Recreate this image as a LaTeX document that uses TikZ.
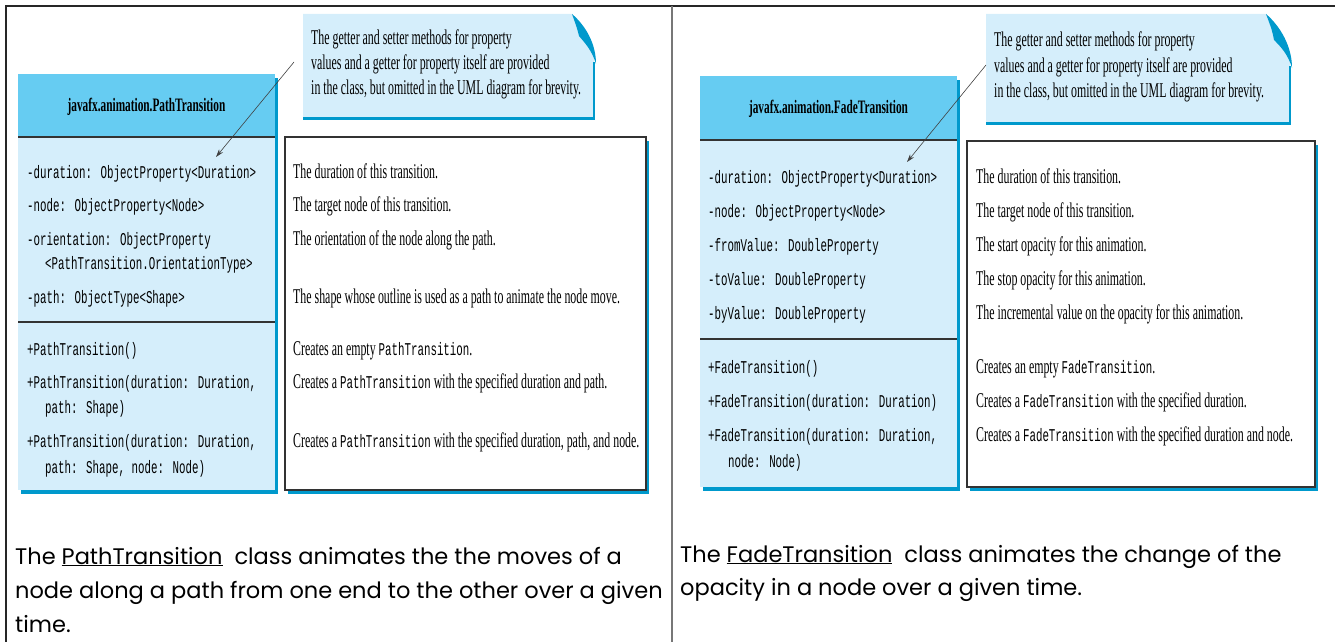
\documentclass[tikz,border=0pt]{standalone}
\usepackage{fontspec}
\usepackage{tikz}
\usetikzlibrary{shadows,arrows.meta}
\setmainfont{Liberation Serif}
\newfontfamily\umlmono[FakeStretch=0.60]{Liberation Mono}
\newfontfamily\umlserif[FakeStretch=0.566]{Liberation Serif}
\newfontfamily\umlhead[FakeStretch=0.596]{Liberation Serif}
\newfontfamily\casual{Poppins}
\newcommand{\attrfont}{\umlmono\fontsize{18}{21}\selectfont}
\newcommand{\descfont}{\umlserif\fontsize{21}{24}\selectfont}
\newcommand{\headfont}{\umlhead\bfseries\fontsize{19}{22}\selectfont}
\newcommand{\remarkfont}{\casual\fontsize{22.5}{26}\selectfont}
\newcommand{\code}[1]{{\umlmono\fontsize{18}{21}\selectfont #1}}
\definecolor{hdrblue}{HTML}{66CCF2}
\definecolor{bodyblue}{HTML}{D5EEFB}
\definecolor{shadeblue}{HTML}{0099CC}
\definecolor{framegray}{HTML}{777777}

\begin{document}
\begin{tikzpicture}[x=1pt,y=-1pt,
	box/.style={anchor=north west,inner sep=0pt,outer sep=0pt},
	bluecopy/.style={general shadow={fill=shadeblue,draw=none,shadow xshift=3pt,shadow yshift=-4pt}},
	classbody/.style={box,fill=bodyblue,bluecopy},
	classhead/.style={box,fill=hdrblue,font=\headfont},
	descbox/.style={box,fill=white,draw=black!80,line width=1.2pt,bluecopy},
	sep/.style={draw=black!80,line width=1.5pt},
	row/.style={anchor=base west,inner sep=0pt},
	attr/.style={row,font=\attrfont},
	desc/.style={row,font=\descfont},
	remark/.style={row,font=\remarkfont},
	pointer/.style={draw=black!75,line width=0.6pt,-{Stealth[length=8pt,width=5pt]}},
	frame/.style={draw=black!85,line width=1.2pt}]
\useasboundingbox (0,0) rectangle (1335,642);
\draw[frame] (6,642) -- (6,6) -- (1335,6);
\draw[draw=framegray,line width=1.5pt] (672,6) -- (672,642);

% PathTransition
\node[classbody,minimum width=257pt,minimum height=416pt] (pclass) at (18,74) {};
\node[classhead,minimum width=257pt,minimum height=63pt,text depth=2pt] (phead) at (18,74) {javafx.animation.PathTransition};
\draw[sep] (phead.south west) -- (phead.south east);
\draw[sep] (18,322) -- (275,322);
\node[descbox,minimum width=361pt,minimum height=353pt] (pdesc) at (285,137) {};
\foreach \x/\y/\t [count=\i] in {
	27/178/{-duration: ObjectProperty<Duration>},
	27/211/{-node: ObjectProperty<Node>},
	27/245/{-orientation: ObjectProperty},
	45/269/{<PathTransition.OrientationType>},
	27/303/{-path: ObjectType<Shape>},
	27/355/{+PathTransition()},
	27/388/{+PathTransition(duration: Duration,},
	45/413/{path: Shape)},
	27/447/{+PathTransition(duration: Duration,},
	45/473/{path: Shape, node: Node)}}
	\node[attr] (pa\i) at (\x,\y) {\t};
\foreach \y/\t [count=\i] in {
	178/{The duration of this transition.},
	211/{The target node of this transition.},
	245/{The orientation of the node along the path.},
	303/{The shape whose outline is used as a path to animate the node move.},
	355/{Creates an empty \code{PathTransition}.},
	388/{Creates a \code{PathTransition} with the specified duration and path.},
	447/{Creates a \code{PathTransition} with the specified duration, path, and node.}}
	\node[desc] (pd\i) at (293,\y) {\t};
\fill[bodyblue] (303,14) -- (572,14) .. controls (584,26) and (594,44) .. (594,62) -- (594,117) -- (303,117) -- cycle;
\fill[shadeblue] (572,14) .. controls (586,26) and (596,44) .. (596,64) .. controls (592,50) and (584,42) .. (579,36) .. controls (577,28) .. (572,14);
\draw[shadeblue,line width=1.5pt] (594,62) -- (594,119);
\draw[shadeblue,line width=3pt] (303,118) -- (595,118);
\node[desc] (pnote1) at (311,45) {The getter and setter methods for property};
\node[desc] (pnote2) at (311,70) {values and a getter for property itself are provided};
\node[desc] (pnote3) at (311,94) {in the class, but omitted in the UML diagram for brevity.};
\coordinate (ptail) at (294,62);
\coordinate (ptip) at (216,157);
\draw[pointer] (ptail) -- (ptip);
\node[remark] (pr1) at (15,564) {The \underline{PathTransition}\ \ class animates the the moves of a};
\node[remark] (pr2) at (15,598) {node along a path from one end to the other over a given};
\node[remark] (pr3) at (15,632) {time.};

% FadeTransition
\node[classbody,minimum width=257pt,minimum height=411pt] (fclass) at (700,76) {};
\node[classhead,minimum width=257pt,minimum height=64pt,text depth=2pt] (fhead) at (700,76) {javafx.animation.FadeTransition};
\draw[sep] (fhead.south west) -- (fhead.south east);
\draw[sep] (700,339) -- (957,339);
\node[descbox,minimum width=348pt,minimum height=346pt] (fdesc) at (967,141) {};
\foreach \x/\y/\t [count=\i] in {
	708/183/{-duration: ObjectProperty<Duration>},
	708/217/{-node: ObjectProperty<Node>},
	708/251/{-fromValue: DoubleProperty},
	708/285/{-toValue: DoubleProperty},
	708/319/{-byValue: DoubleProperty},
	708/373/{+FadeTransition()},
	708/407/{+FadeTransition(duration: Duration)},
	708/441/{+FadeTransition(duration: Duration,},
	728/467/{node: Node)}}
	\node[attr] (fa\i) at (\x,\y) {\t};
\foreach \y/\t [count=\i] in {
	183/{The duration of this transition.},
	217/{The target node of this transition.},
	251/{The start opacity for this animation.},
	285/{The stop opacity for this animation.},
	319/{The incremental value on the opacity for this animation.},
	373/{Creates an empty \code{FadeTransition}.},
	407/{Creates a \code{FadeTransition} with the specified duration.},
	441/{Creates a \code{FadeTransition} with the specified duration and node.}}
	\node[desc] (fd\i) at (976,\y) {\t};
\fill[bodyblue] (986,14) -- (1266,14) .. controls (1278,26) and (1290,46) .. (1290,66) -- (1290,122) -- (986,122) -- cycle;
\fill[shadeblue] (1266,14) .. controls (1280,26) and (1292,46) .. (1292,68) .. controls (1288,54) and (1280,46) .. (1274,40) .. controls (1272,30) .. (1266,14);
\draw[shadeblue,line width=1.5pt] (1290,66) -- (1290,124);
\draw[shadeblue,line width=3pt] (986,123) -- (1291,123);
\node[desc] (fnote1) at (994,47) {The getter and setter methods for property};
\node[desc] (fnote2) at (994,72) {values and a getter for property itself are provided};
\node[desc] (fnote3) at (994,97) {in the class, but omitted in the UML diagram for brevity.};
\coordinate (ftail) at (986,65);
\coordinate (ftip) at (907,162);
\draw[pointer] (ftail) -- (ftip);
\node[remark] (fr1) at (680,562) {The \underline{FadeTransition}\ \ class animates the change of the};
\node[remark] (fr2) at (680,595) {opacity in a node over a given time.};
\end{tikzpicture}
\end{document}
